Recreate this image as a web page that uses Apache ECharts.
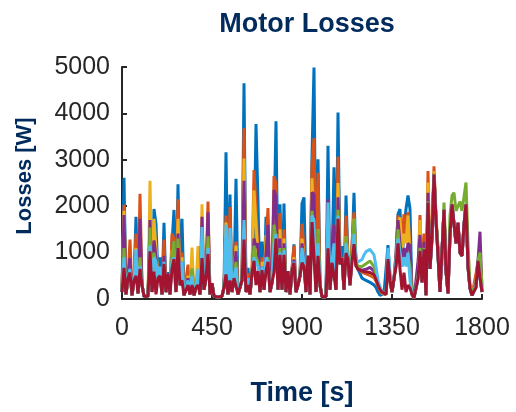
<!DOCTYPE html>
<html>
<head>
<meta charset="utf-8">
<title>Motor Losses</title>
<script src="https://cdn.jsdelivr.net/npm/echarts@6/dist/echarts.min.js"></script>
<style>
  html, body { margin: 0; padding: 0; background: #ffffff; }
  #chart { width: 516px; height: 412px; }
</style>
</head>
<body>
<div id="chart"></div>
<script>
  // sample clock: one value every 10 s, 0..1800 s
  var STEP = 10;
  var time = [];
  for (var k = 0; k <= 1800 / STEP; k++) time.push(k * STEP);

  var xTicks = [0, 450, 900, 1350, 1800];
  var yTicks = [0, 1000, 2000, 3000, 4000, 5000];

  // losses [W], one row per 100 s
  var lossBlue = [
    150, 2610, 100, 450, 600, 80, 400, 1770, 120, 900,
    300, 60, 40, 60, 1200, 150, 1940, 1620, 450, 900,
    100, 1640, 150, 580, 100, 1200, 1920, 150, 2470, 300,
    1730, 80, 50, 500, 100, 600, 360, 250, 500, 100,
    1300, 200, 450, 1200, 100, 340, 60, 50, 40, 60,
    60, 250, 3160, 100, 2250, 150, 450, 2590, 100, 250,
    400, 4650, 150, 670, 100, 570, 1000, 3770, 2100, 150,
    1240, 200, 1770, 1000, 150, 350, 1500, 3830, 200, 2040,
    200, 2060, 150, 600, 100, 610, 1180, 150, 300, 500,
    2060, 2190, 150, 930, 100, 3090, 4990, 150, 3010, 300,
    50, 40, 50, 3300, 200, 780, 2840, 200, 4020, 760,
    1140, 200, 2230, 850, 300, 1000, 2290, 720, 640, 600,
    450, 420, 400, 380, 360, 340, 300, 250, 150, 80,
    100, 120, 100, 1160, 400, 150, 440, 1000, 1830, 1940,
    800, 1500, 1940, 2230, 1940, 100, 20, 20, 440, 1030,
    360, 1070, 80, 2080, 650, 1300, 2680, 1700, 930, 150,
    150, 1920, 600, 120, 1400, 2040, 2000, 1200, 1640, 1000,
    930, 1600, 2040, 700, 230, 80, 80, 250, 820, 460,
    150
  ];
  var lossOrange = [
    150, 2030, 100, 450, 1280, 80, 400, 1410, 120, 2270,
    300, 60, 40, 60, 1500, 150, 1500, 1000, 450, 650,
    100, 1280, 150, 550, 100, 1410, 1300, 150, 2150, 300,
    1000, 80, 50, 740, 100, 650, 80, 250, 550, 100,
    1500, 200, 450, 2100, 100, 340, 60, 50, 40, 60,
    60, 250, 1800, 100, 1980, 150, 450, 1240, 100, 250,
    400, 3680, 150, 560, 100, 570, 2780, 2000, 1000, 150,
    900, 200, 1200, 1960, 150, 350, 2650, 2480, 200, 1850,
    200, 1500, 150, 600, 100, 650, 1150, 150, 300, 500,
    1620, 1100, 150, 930, 100, 2900, 3470, 150, 2720, 300,
    50, 40, 50, 2100, 200, 900, 1600, 200, 3070, 750,
    900, 200, 1800, 850, 300, 1200, 1870, 720, 650, 620,
    580, 560, 540, 520, 510, 500, 460, 380, 280, 180,
    120, 130, 100, 800, 400, 150, 440, 900, 1800, 1830,
    1200, 1830, 1300, 1870, 1100, 100, 20, 20, 600, 1810,
    360, 1410, 80, 2760, 650, 1500, 2860, 1800, 1000, 150,
    150, 1920, 600, 120, 1400, 2040, 2000, 1200, 1640, 1000,
    930, 1600, 2040, 700, 230, 80, 80, 550, 820, 800,
    150
  ];
  var lossYellow = [
    150, 1900, 100, 450, 700, 80, 400, 1100, 120, 1200,
    300, 60, 40, 60, 2550, 150, 1730, 1080, 450, 550,
    100, 900, 150, 550, 100, 1060, 1100, 150, 1730, 300,
    900, 80, 50, 500, 100, 1110, 80, 250, 1140, 100,
    2040, 200, 450, 1400, 100, 340, 60, 50, 40, 60,
    60, 250, 1650, 100, 1300, 150, 450, 1150, 100, 250,
    400, 3030, 150, 450, 100, 570, 2340, 2300, 900, 150,
    800, 200, 1380, 1000, 150, 350, 1800, 1900, 200, 1500,
    200, 1300, 150, 600, 100, 610, 900, 150, 300, 500,
    1300, 900, 150, 930, 100, 2600, 2610, 150, 1500, 300,
    50, 40, 50, 1800, 200, 800, 1400, 200, 2500, 750,
    880, 200, 1350, 850, 300, 900, 1730, 800, 650, 650,
    600, 600, 580, 560, 560, 550, 500, 420, 300, 200,
    130, 140, 100, 700, 400, 150, 440, 800, 1600, 1760,
    1000, 1410, 1200, 1800, 900, 100, 20, 20, 500, 1700,
    360, 1100, 80, 2510, 650, 1400, 2750, 1700, 1000, 150,
    150, 1920, 600, 120, 1400, 2040, 2000, 1200, 1640, 1000,
    930, 1600, 2040, 700, 230, 80, 80, 400, 820, 1000,
    150
  ];
  var lossPurple = [
    150, 1810, 100, 450, 880, 80, 400, 1000, 120, 1730,
    300, 60, 40, 60, 1700, 150, 1260, 900, 450, 600,
    100, 930, 150, 550, 100, 900, 1250, 150, 1410, 300,
    800, 80, 50, 450, 100, 600, 80, 250, 550, 100,
    1770, 200, 450, 1870, 100, 340, 60, 50, 40, 60,
    60, 250, 1300, 100, 1200, 150, 450, 1030, 100, 250,
    400, 2550, 150, 400, 100, 570, 1300, 1100, 1200, 150,
    700, 200, 1000, 1600, 150, 350, 2350, 2200, 200, 1300,
    200, 1200, 150, 600, 100, 610, 850, 150, 300, 500,
    1200, 850, 150, 930, 100, 2300, 2250, 150, 1400, 300,
    50, 40, 50, 2150, 200, 1200, 1600, 200, 2190, 750,
    880, 200, 1200, 850, 300, 900, 1500, 750, 650, 640,
    620, 630, 640, 660, 680, 660, 600, 480, 330, 220,
    140, 140, 100, 700, 400, 150, 440, 800, 1700, 1200,
    800, 1100, 900, 1200, 1150, 100, 20, 20, 800, 1380,
    360, 1230, 80, 2290, 650, 1400, 2700, 1700, 1000, 150,
    150, 1920, 600, 120, 1400, 2040, 2000, 1200, 1640, 1000,
    930, 1600, 2040, 700, 230, 80, 80, 350, 820, 1450,
    150
  ];
  var lossGreen = [
    150, 1100, 100, 450, 570, 80, 400, 800, 120, 900,
    300, 60, 40, 60, 1540, 150, 1000, 700, 450, 500,
    100, 760, 150, 550, 100, 950, 1250, 150, 1300, 300,
    700, 80, 50, 350, 100, 660, 80, 250, 450, 100,
    1200, 200, 450, 1350, 100, 340, 60, 50, 40, 60,
    60, 250, 1100, 100, 1000, 150, 450, 800, 100, 250,
    400, 1500, 150, 350, 100, 570, 1150, 900, 800, 150,
    620, 200, 800, 900, 150, 350, 1600, 1300, 200, 1100,
    200, 1100, 150, 600, 100, 610, 780, 150, 300, 500,
    1000, 700, 150, 930, 100, 1900, 1900, 150, 1500, 300,
    50, 40, 50, 1500, 200, 780, 1030, 200, 1920, 750,
    880, 200, 1350, 850, 300, 1000, 1730, 800, 700, 700,
    700, 720, 760, 800, 820, 800, 700, 540, 350, 230,
    150, 150, 100, 860, 400, 150, 440, 700, 1500, 900,
    700, 900, 800, 900, 700, 100, 20, 20, 500, 1100,
    400, 1100, 100, 2100, 700, 1300, 2700, 1700, 1140, 1000,
    700, 2080, 900, 400, 1800, 2230, 2290, 1900, 2000, 2100,
    1900, 2200, 2510, 1200, 290, 150, 150, 300, 820, 1000,
    300
  ];
  var lossCyan = [
    150, 900, 100, 450, 650, 80, 400, 1070, 120, 700,
    300, 60, 40, 60, 1150, 150, 900, 800, 450, 700,
    100, 800, 150, 550, 100, 800, 900, 150, 1100, 300,
    800, 80, 50, 400, 100, 500, 80, 250, 650, 100,
    1550, 200, 450, 1100, 100, 340, 60, 50, 40, 60,
    60, 250, 1600, 100, 1530, 150, 450, 680, 100, 250,
    400, 1700, 150, 450, 100, 570, 900, 800, 700, 150,
    700, 200, 900, 800, 150, 350, 1200, 1400, 200, 1000,
    200, 1050, 150, 600, 100, 610, 800, 150, 300, 550,
    1100, 800, 150, 930, 100, 1800, 1700, 150, 1200, 300,
    50, 40, 50, 2080, 200, 800, 1200, 200, 1800, 750,
    880, 200, 1200, 850, 300, 850, 1400, 850, 800, 780,
    850, 950, 1020, 1060, 1070, 1040, 950, 700, 400, 260,
    170, 180, 100, 1100, 600, 150, 450, 800, 1300, 1000,
    700, 900, 700, 1000, 400, 100, 20, 20, 440, 1030,
    360, 1070, 80, 2080, 650, 1300, 2680, 1700, 930, 150,
    150, 1920, 600, 120, 1400, 2040, 2000, 1200, 1640, 1000,
    930, 1600, 2040, 700, 230, 80, 80, 250, 820, 460,
    150
  ];
  var lossRed = [
    150, 670, 100, 450, 570, 80, 400, 500, 120, 650,
    300, 60, 40, 60, 1030, 150, 590, 100, 450, 500,
    100, 760, 150, 550, 100, 650, 860, 150, 1100, 300,
    400, 80, 50, 300, 100, 300, 80, 250, 300, 100,
    880, 200, 450, 970, 100, 340, 60, 50, 40, 60,
    60, 250, 530, 100, 400, 150, 450, 460, 100, 250,
    400, 1280, 150, 300, 100, 570, 820, 300, 600, 150,
    620, 200, 600, 800, 150, 350, 570, 1300, 200, 950,
    200, 950, 150, 600, 100, 610, 780, 150, 300, 500,
    780, 700, 150, 930, 100, 1660, 1640, 150, 930, 300,
    50, 40, 50, 1090, 200, 780, 750, 200, 1730, 750,
    880, 200, 990, 850, 300, 800, 1180, 720, 640, 620,
    600, 580, 580, 570, 570, 560, 520, 420, 300, 200,
    150, 150, 100, 860, 400, 150, 440, 700, 1200, 650,
    200, 570, 150, 300, 230, 100, 20, 20, 440, 1030,
    360, 1070, 80, 2080, 650, 1300, 2680, 1700, 930, 150,
    150, 1920, 600, 120, 1400, 2040, 2000, 1200, 1640, 1000,
    930, 1600, 2040, 700, 230, 80, 80, 250, 820, 460,
    150
  ];

  var seriesValues = [lossBlue, lossOrange, lossYellow, lossPurple, lossGreen, lossCyan, lossRed];
  var seriesColors = ["#0072BD", "#D95319", "#EDB120", "#7E2F8E", "#77AC30", "#4DBEEE", "#A2142F"];

  var NAVY = "#002B5C";
  var INK = "#262626";
  var FONT = "'Liberation Sans', Arial, sans-serif";

  function pairs(values) {
    return values.map(function (v, i) { return [time[i], v]; });
  }

  function plain(v) { return String(v); }

  var chart = echarts.init(document.getElementById("chart"), null, { renderer: "canvas" });

  chart.setOption({
    animation: false,
    backgroundColor: "#ffffff",
    textStyle: { fontFamily: FONT },
    title: {
      text: "Motor Losses",
      left: 302,
      top: 6,
      textAlign: "center",
      textStyle: { color: NAVY, fontSize: 27, fontWeight: "bold", fontFamily: FONT }
    },
    graphic: [{
      type: "text",
      x: 25,
      y: 176,
      rotation: Math.PI / 2,
      style: {
        text: "Losses [W]",
        fill: NAVY,
        font: "bold 22px 'Liberation Sans', Arial, sans-serif",
        textAlign: "center",
        textVerticalAlign: "middle"
      }
    }],
    grid: { left: 122, right: 34, top: 67, bottom: 108, containLabel: false },
    xAxis: {
      type: "value",
      min: xTicks[0],
      max: xTicks[xTicks.length - 1],
      interval: xTicks[1] - xTicks[0],
      name: "Time [s]",
      nameLocation: "middle",
      nameGap: 81,
      nameTextStyle: { color: NAVY, fontSize: 27, fontWeight: "bold", fontFamily: FONT },
      axisLine: { show: true, lineStyle: { color: INK, width: 2 } },
      axisTick: { show: true, inside: true, length: 5, lineStyle: { color: INK, width: 2 } },
      axisLabel: { color: INK, fontSize: 25, margin: 17, fontFamily: FONT, formatter: plain },
      splitLine: { show: false }
    },
    yAxis: {
      type: "value",
      min: yTicks[0],
      max: yTicks[yTicks.length - 1],
      interval: yTicks[1] - yTicks[0],
      axisLine: { show: true, lineStyle: { color: INK, width: 2 } },
      axisTick: { show: true, inside: true, length: 5, lineStyle: { color: INK, width: 2 } },
      axisLabel: { color: INK, fontSize: 25, margin: 12, fontFamily: FONT, formatter: plain },
      splitLine: { show: false }
    },
    series: seriesValues.map(function (vals, i) {
      return {
        type: "line",
        data: pairs(vals),
        showSymbol: false,
        symbol: "none",
        lineStyle: { color: seriesColors[i], width: 3 },
        itemStyle: { color: seriesColors[i] },
        z: 2 + i
      };
    })
  });
</script>
</body>
</html>
